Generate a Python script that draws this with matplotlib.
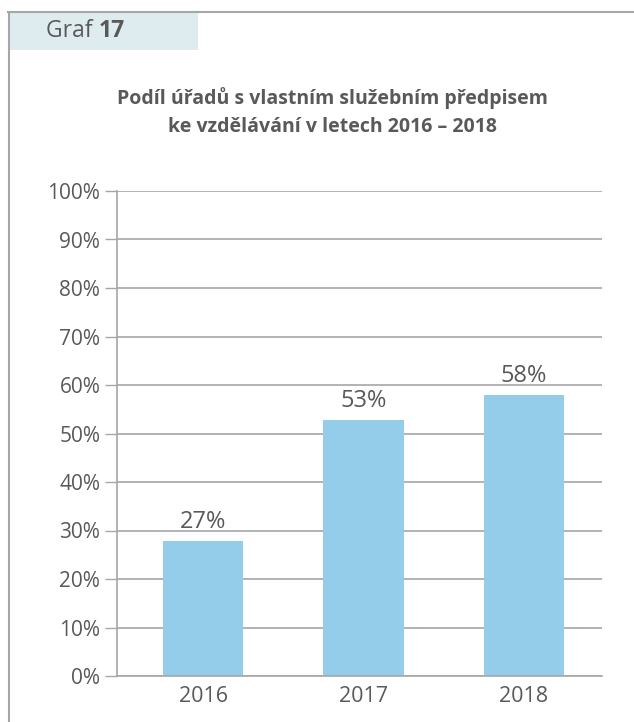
import matplotlib.pyplot as plt
from matplotlib.patches import Rectangle
from matplotlib.lines import Line2D

years = ['2016', '2017', '2018']
shares = [0.278, 0.528, 0.579]
share_labels = ['27%', '53%', '58%']
y_ticks = [0, 0.1, 0.2, 0.3, 0.4, 0.5, 0.6, 0.7, 0.8, 0.9, 1.0]
y_tick_labels = ['0%', '10%', '20%', '30%', '40%', '50%', '60%', '70%', '80%', '90%', '100%']

title = 'Podíl úřadů s vlastním služebním předpisem\nke vzdělávání v letech 2016 – 2018'

plt.rcParams['font.family'] = ['Open Sans', 'DejaVu Sans']
text_col = '#595959'
grid_col = '#a6a6a6'
bar_col = '#93cdea'

W, H = 634, 722
fig = plt.figure(figsize=(W / 100, H / 100), dpi=100)

# frame round the chart (top and left edge) and the header box
fig.add_artist(Line2D([8 / W, 1], [1 - 12 / H, 1 - 12 / H], color=grid_col, lw=1.5))
fig.add_artist(Line2D([9 / W, 9 / W], [0, 1 - 12 / H], color=grid_col, lw=1.5))
fig.add_artist(Rectangle((10 / W, 1 - 50 / H), 188 / W, 37 / H,
                         facecolor='#deecf0', edgecolor='none'))
t = fig.text(46 / W, 1 - 31 / H, 'Graf ', fontsize=16.5, color=text_col, va='center')
fig.canvas.draw()
bb = t.get_window_extent()
fig.text(bb.x1 / W, 1 - 31 / H, '17', fontsize=16.5, fontweight='bold', color=text_col, va='center')

fig.text(332 / W, 1 - 112 / H, title, ha='center', va='center', fontsize=14,
         fontweight='bold', color=text_col, linespacing=1.55)

ax = fig.add_axes([117 / W, 1 - 676 / H, 485 / W, 485 / H])
x = range(len(years))
ax.bar(x, shares, width=0.5, color=bar_col, zorder=2)
for xi, v, lab in zip(x, shares, share_labels):
    ax.annotate(lab, (xi, v), xytext=(0, 5), textcoords='offset points',
                ha='center', va='bottom', fontsize=17, color=text_col)

ax.set_xlim(-0.54, 2.49)
ax.set_ylim(0, 1)
ax.set_yticks(y_ticks)
ax.set_yticklabels(y_tick_labels)
ax.set_xticks(list(x))
ax.set_xticklabels(years)
ax.tick_params(axis='y', length=9, width=1, color=grid_col, labelsize=15, labelcolor=text_col, pad=3)
ax.tick_params(axis='x', length=0, labelsize=15.5, labelcolor=text_col, pad=7)
ax.yaxis.grid(True, color=grid_col, lw=1.2, zorder=0)
ax.set_axisbelow(True)
for s in ['top', 'right']:
    ax.spines[s].set_visible(False)
for s in ['left', 'bottom']:
    ax.spines[s].set_color(grid_col)
    ax.spines[s].set_linewidth(1.2)

fig.savefig('out.png', dpi=100)
